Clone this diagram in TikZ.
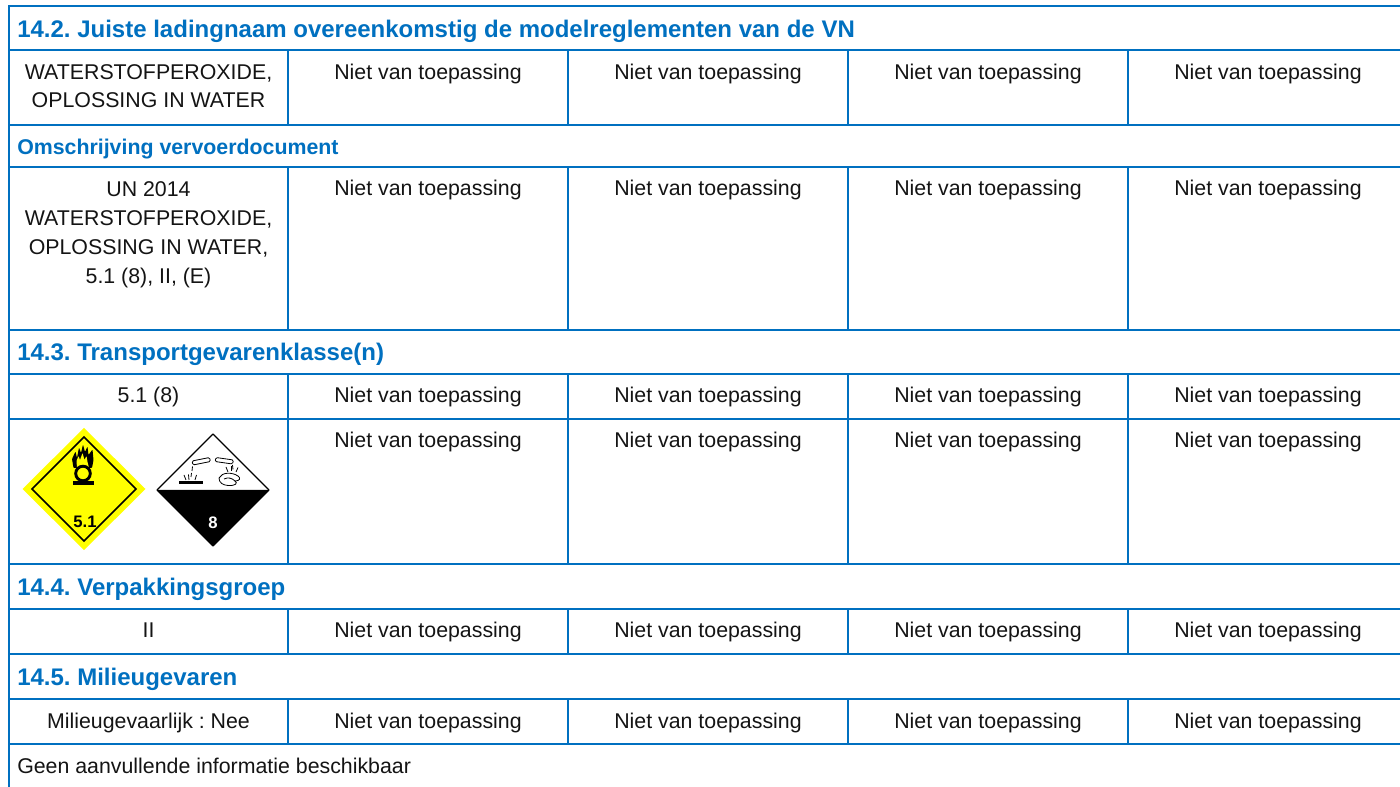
\documentclass[tikz,border=0pt]{standalone}
\usepackage{fontspec}
\setmainfont{Liberation Sans}
\definecolor{tblue}{RGB}{0,112,192}
\definecolor{hazyellow}{RGB}{255,255,0}
\definecolor{txt}{RGB}{20,20,20}
\begin{document}
\frenchspacing
\begin{tikzpicture}[x=0.75pt,y=-0.75pt,
  grid/.style={draw=tblue, line width=1.5pt},
  hdr/.style={anchor=base west, inner sep=0pt, text=tblue, font=\fontsize{18}{21}\selectfont\bfseries},
  subhdr/.style={anchor=base west, inner sep=0pt, text=tblue, font=\fontsize{16}{19}\selectfont\bfseries},
  cell/.style={anchor=base, inner sep=0pt, align=center, text=txt, font=\fontsize{16}{21.6}\selectfont},
  plaintext/.style={anchor=base west, inner sep=0pt, text=txt, font=\fontsize{16}{19}\selectfont},
  labnum/.style={anchor=base, inner sep=0pt, font=\fontsize{12.5}{14}\selectfont\bfseries},
  thinblack/.style={draw=black, line width=0.6pt}]
\useasboundingbox (0,0) rectangle (1400,787);
\fill[white] (0,0) rectangle (1400,787);

% ---- grid lines ----
\foreach \yy in {6,50,125,167,330,374,419,564,609,654,699,744}
  \draw[grid] (8.4,\yy) -- (1400,\yy);
\draw[grid] (9,6) -- (9,787);
\foreach \a/\b in {50/125,167/330,374/419,419/564,609/654,699/744}
  \foreach \xx in {288,568,848,1128}
    \draw[grid] (\xx,\a) -- (\xx,\b);

% ---- headers ----
\node[hdr] (h142) at (17,38) {14.2. Juiste ladingnaam overeenkomstig de modelreglementen van de VN};
\node[subhdr] (hom) at (17,155) {Omschrijving vervoerdocument};
\node[hdr] (h143) at (17,361) {14.3. Transportgevarenklasse(n)};
\node[hdr] (h144) at (17,596) {14.4. Verpakkingsgroep};
\node[hdr] (h145) at (17,686) {14.5. Milieugevaren};

% ---- first column cells (base anchor = last line) ----
\node[cell, font=\fontsize{16}{21.4}\selectfont] (c1r1) at (148.5,108) {WATERSTOFPEROXIDE,\\OPLOSSING IN WATER};
\node[cell, font=\fontsize{16}{21.9}\selectfont] (c1r2) at (148.5,284) {UN 2014\\WATERSTOFPEROXIDE,\\OPLOSSING IN WATER,\\5.1 (8), II, (E)};
\node[cell] (c1r3) at (148.5,403) {5.1 (8)};
\node[cell] (c1r5) at (148.5,638) {II};
\node[cell] (c1r6) at (148.5,728) {Milieugevaarlijk : Nee};
\node[plaintext] (geen) at (17,773) {Geen aanvullende informatie beschikbaar};

% ---- "Niet van toepassing" cells ----
\foreach \yy [count=\r] in {80,196,403,448,638,728}
  \foreach \xx [count=\c] in {428,708,988,1268}
    \node[cell] (n-\r-\c) at (\xx,\yy) {Niet van toepassing};

% ---- class 5.1 label ----
\fill[hazyellow] (84,428) -- (145.5,489) -- (84,550) -- (22.5,489) -- cycle;
\draw[black, line width=1.2pt] (84,437) -- (136,489) -- (84,541) -- (32,489) -- cycle;
% flame
\fill[black, rounded corners=0.6pt] (73.5,468) -- (72,459) -- (75.5,451.5) -- (77,458) -- (79,447.5) -- (81,453) -- (83,444.5) -- (85,452) -- (87.5,446.5) -- (88.5,455) -- (92.5,449.5) -- (93.5,460) -- (92,468) -- cycle;
\fill[hazyellow, rounded corners=0.5pt] (77,468) -- (76.5,461) -- (78.5,456) -- (80,460) -- (82.5,453) -- (84.5,460) -- (86.5,456) -- (87.5,462) -- (89,468) -- cycle;
\draw[black, fill=hazyellow, line width=2.2pt] (83,473.5) circle[radius=7.3];
\fill[black] (72.5,481.5) rectangle (94,485);
\node[labnum, text=black] (l51) at (85,528) {5.1};

% ---- class 8 label ----
\fill[white] (213,434) -- (269,490) -- (157,490) -- cycle;
\fill[black] (157,490) -- (269,490) -- (213,546) -- cycle;
\draw[black, line width=1pt, line join=round] (213,434) -- (269,490) -- (213,546) -- (157,490) -- cycle;
% test tubes
\draw[thinblack, rounded corners=1pt] (192,461) -- (209.5,457.5) -- (210.5,461.5) -- (193,465) -- cycle;
\draw[thinblack, rounded corners=1pt] (216,457.5) -- (233.5,460) -- (232.5,464) -- (215,461.5) -- cycle;
% drops on left
\draw[thinblack] (192.5,466.5) -- (192,471);
\draw[thinblack] (191.5,473) -- (191,477);
\draw[thinblack] (186,480) -- (184,475);
\draw[thinblack] (189,480) -- (188.5,474.5);
\draw[thinblack] (195,480) -- (196.5,475);
\fill[black] (179,481) rectangle (203,484.5);
% drops and hand on right
\draw[thinblack] (232.5,465) -- (233,469.5);
\draw[thinblack] (228,472) -- (226,467);
\draw[thinblack] (236,472) -- (238,467.5);
\draw[thinblack] (231,471) -- (231,466.5);
\draw[thinblack] (219,478) .. controls (222,472) and (232,472) .. (238,476)
  .. controls (241,478) and (240,481) .. (235,481)
  .. controls (238,483) and (236,486) .. (228,485.5)
  .. controls (223,485) and (219,483) .. (219,478);
\draw[thinblack] (224,479) .. controls (228,477) and (232,478) .. (235,481);
\node[labnum, text=white] (l8) at (213,529) {8};
\end{tikzpicture}
\end{document}
